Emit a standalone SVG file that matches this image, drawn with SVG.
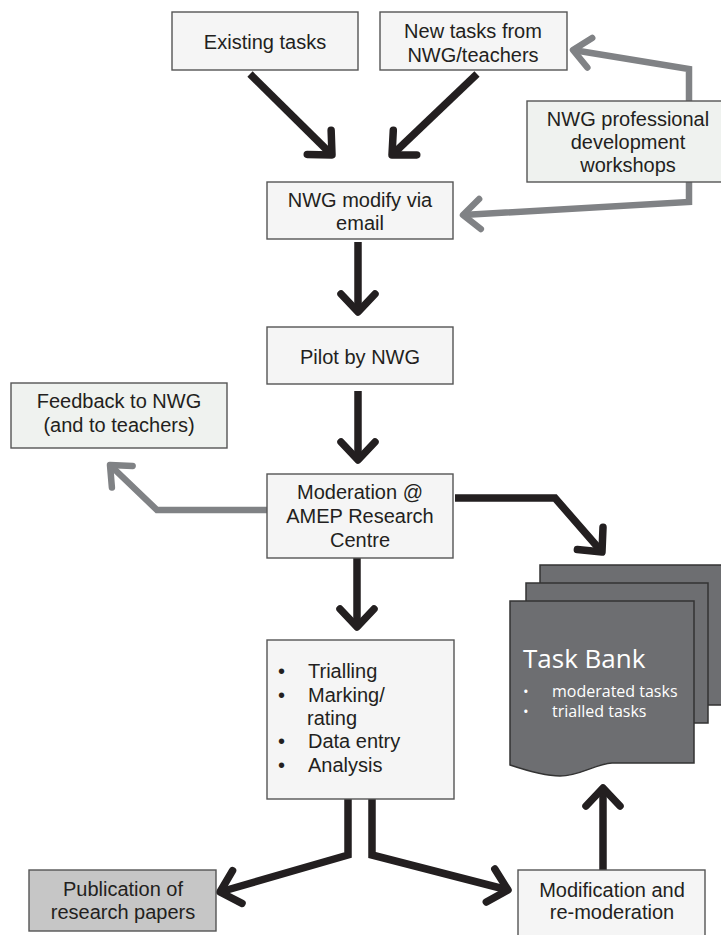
<svg xmlns="http://www.w3.org/2000/svg" width="721" height="935" viewBox="0 0 721 935">
<defs>
<style>
.box{fill:#f5f5f5;stroke:#555;stroke-width:1.4}
.gbox{fill:#eff2ef;stroke:#555;stroke-width:1.4}
.pbox{fill:#c6c6c6;stroke:#555;stroke-width:1.4}
.t{font-family:"Liberation Sans",Arial,sans-serif;font-size:20px;fill:#231f20;text-anchor:middle}
.tl{font-family:"Liberation Sans",Arial,sans-serif;font-size:20px;fill:#231f20}
.page{fill:#6d6e71;stroke:#333;stroke-width:1.5}
.tb{font-family:"Open Sans",sans-serif;fill:#fff}
.bk{fill:none;stroke:#231f20;stroke-width:7.5;stroke-linejoin:miter}
.gr{fill:none;stroke:#808285;stroke-width:6.5;stroke-linejoin:miter}
</style>
<marker id="ab" markerUnits="userSpaceOnUse" orient="auto" markerWidth="10" markerHeight="10" refX="0" refY="0" overflow="visible">
<path d="M-18,-17 L0,0 L-18,17" fill="none" stroke="#231f20" stroke-width="7.5" stroke-linecap="round" stroke-linejoin="round"/>
</marker>
<marker id="ag" markerUnits="userSpaceOnUse" orient="auto" markerWidth="10" markerHeight="10" refX="0" refY="0" overflow="visible">
<path d="M-17,-15 L0,0 L-17,15" fill="none" stroke="#808285" stroke-width="6.5" stroke-linecap="round" stroke-linejoin="round"/>
</marker>
</defs>
<rect width="721" height="935" fill="#fff"/>

<g id="connectors">
<polyline class="bk" points="250,74 332,155" marker-end="url(#ab)"/>
<polyline class="bk" points="477,74 392,155" marker-end="url(#ab)"/>
<polyline class="gr" points="689,101 689,69 573,50" marker-end="url(#ag)"/>
<polyline class="gr" points="689,182 689,202 463,215" marker-end="url(#ag)"/>
<polyline class="bk" points="358,242 358,312" marker-end="url(#ab)"/>
<polyline class="bk" points="358,391 358,460" marker-end="url(#ab)"/>
<polyline class="gr" points="267,510 157,510 110,465" marker-end="url(#ag)"/>
<polyline class="bk" points="455,498 555,498 602,552" marker-end="url(#ab)"/>
<polyline class="bk" points="357,558 357,627" marker-end="url(#ab)"/>
<polyline class="bk" points="348,799 348,855 220,892" marker-end="url(#ab)"/>
<polyline class="bk" points="372,799 372,855 508,890" marker-end="url(#ab)"/>
<polyline class="bk" points="603,870 603,788" marker-end="url(#ab)"/>
</g>

<g id="existing">
<rect class="box" x="172" y="12" width="186" height="58"/>
<text class="t" x="265" y="49">Existing tasks</text>
</g>
<g id="newtasks">
<rect class="box" x="380" y="12" width="187" height="58"/>
<text class="t" x="473" y="38">New tasks from</text>
<text class="t" x="473" y="62">NWG/teachers</text>
</g>
<g id="workshops">
<rect class="gbox" x="527" y="101" width="200" height="81"/>
<text class="t" x="628" y="126">NWG professional</text>
<text class="t" x="628" y="149">development</text>
<text class="t" x="628" y="172">workshops</text>
</g>
<g id="modify">
<rect class="box" x="267" y="182" width="186" height="57"/>
<text class="t" x="360" y="207">NWG modify via</text>
<text class="t" x="360" y="230">email</text>
</g>
<g id="pilot">
<rect class="box" x="267" y="327" width="186" height="57"/>
<text class="t" x="360" y="364">Pilot by NWG</text>
</g>
<g id="feedback">
<rect class="gbox" x="11" y="383" width="216" height="65"/>
<text class="t" x="119" y="408">Feedback to NWG</text>
<text class="t" x="119" y="432">(and to teachers)</text>
</g>
<g id="moderation">
<rect class="box" x="267" y="474" width="186" height="84"/>
<text class="t" x="360" y="499">Moderation @</text>
<text class="t" x="360" y="523">AMEP Research</text>
<text class="t" x="360" y="547">Centre</text>
</g>
<g id="trialling">
<rect class="box" x="267" y="640" width="187" height="159"/>
<text class="tl" x="278" y="678">•</text>
<text class="tl" x="308" y="678">Trialling</text>
<text class="tl" x="278" y="702">•</text>
<text class="tl" x="308" y="702">Marking/</text>
<text class="tl" x="307" y="725">rating</text>
<text class="tl" x="278" y="748">•</text>
<text class="tl" x="308" y="748">Data entry</text>
<text class="tl" x="278" y="772">•</text>
<text class="tl" x="308" y="772">Analysis</text>
</g>
<g id="taskbank">
<rect class="page" x="540" y="565" width="190" height="140"/>
<rect class="page" x="526" y="583" width="182" height="140"/>
<path class="page" d="M510,601 H694 V763 H612 C595,764 580,776 560,776 C545,776 528,771 510,765 Z"/>
<text class="tb" x="523" y="668" font-size="26">Task Bank</text>
<text class="tb" x="523" y="697" font-size="15">•</text>
<text class="tb" x="552" y="697" font-size="16">moderated tasks</text>
<text class="tb" x="523" y="717" font-size="15">•</text>
<text class="tb" x="552" y="717" font-size="16">trialled tasks</text>
</g>
<g id="publication">
<rect class="pbox" x="29" y="870" width="187" height="61"/>
<text class="t" x="123" y="896">Publication of</text>
<text class="t" x="123" y="919">research papers</text>
</g>
<g id="modification">
<rect class="box" x="518" y="870" width="187" height="75"/>
<text class="t" x="612" y="897">Modification and</text>
<text class="t" x="612" y="919">re-moderation</text>
</g>
</svg>
